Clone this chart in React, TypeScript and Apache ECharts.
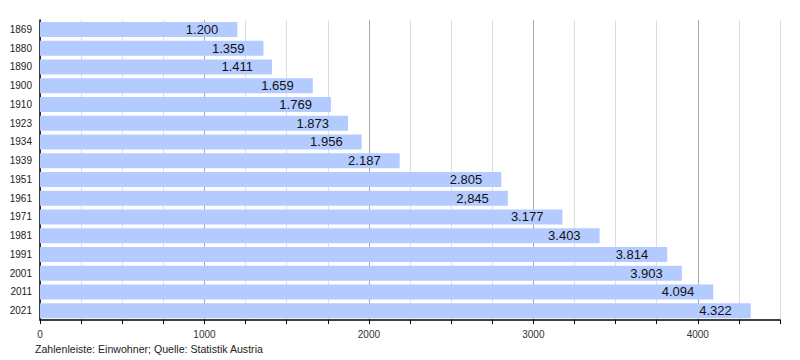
import React, { useEffect, useRef } from "react";
import * as echarts from "echarts";

const years = ["1869", "1880", "1890", "1900", "1910", "1923", "1934", "1939", "1951", "1961", "1971", "1981", "1991", "2001", "2011", "2021"];
const population = [1200, 1359, 1411, 1659, 1769, 1873, 1956, 2187, 2805, 2845, 3177, 3403, 3814, 3903, 4094, 4322];
const valueLabels = ["1.200", "1.359", "1.411", "1.659", "1.769", "1.873", "1.956", "2.187", "2.805", "2,845", "3.177", "3.403", "3.814", "3.903", "4.094", "4.322"];
const footnote = "Zahlenleiste: Einwohner; Quelle: Statistik Austria";

export default function App() {
  const ref = useRef<HTMLDivElement>(null);
  useEffect(() => {
    if (!ref.current) return;
    const chart = echarts.init(ref.current, undefined, { renderer: "svg" });
    const font = "Liberation Sans, Arial, sans-serif";
    chart.setOption({
      animation: false,
      textStyle: { fontFamily: font },
      grid: { left: 40, right: 20, top: 20, bottom: 40, containLabel: false },
      xAxis: {
        type: "value",
        min: 0,
        max: 4500,
        interval: 250,
        axisLine: { show: true, lineStyle: { color: "#000", width: 1.5 } },
        axisTick: { show: true, length: 4, lineStyle: { color: "#000" } },
        axisLabel: {
          color: "#333",
          fontSize: 10,
          margin: 9,
          fontFamily: font,
          formatter: (v: number) => (v % 1000 === 0 && v < 4500 ? String(v) : ""),
        },
        splitLine: {
          show: true,
          lineStyle: { color: ["#aaaaaa", "#dddddd", "#dddddd", "#dddddd"], width: 1 },
        },
      },
      yAxis: {
        type: "category",
        data: years,
        inverse: true,
        axisLine: { show: true, lineStyle: { color: "#000", width: 1.5 } },
        axisTick: { show: false },
        axisLabel: { color: "#222", fontSize: 10, margin: 8, fontFamily: font },
        splitLine: { show: false },
      },
      series: [
        {
          type: "bar",
          data: population,
          barCategoryGap: "20%",
          itemStyle: { color: "#b3cbff" },
          label: {
            show: true,
            position: "insideRight",
            distance: 19,
            color: "#111",
            fontSize: 13,
            fontFamily: font,
            formatter: (p: any) => valueLabels[p.dataIndex],
          },
        },
      ],
      graphic: [
        {
          type: "text",
          left: 35,
          top: 343,
          style: { text: footnote, fontSize: 10.6, fill: "#222", fontFamily: font },
        },
      ],
    });
    return () => chart.dispose();
  }, []);
  return <div ref={ref} style={{ width: 800, height: 360, position: "absolute", left: 0, top: 0 }} />;
}
